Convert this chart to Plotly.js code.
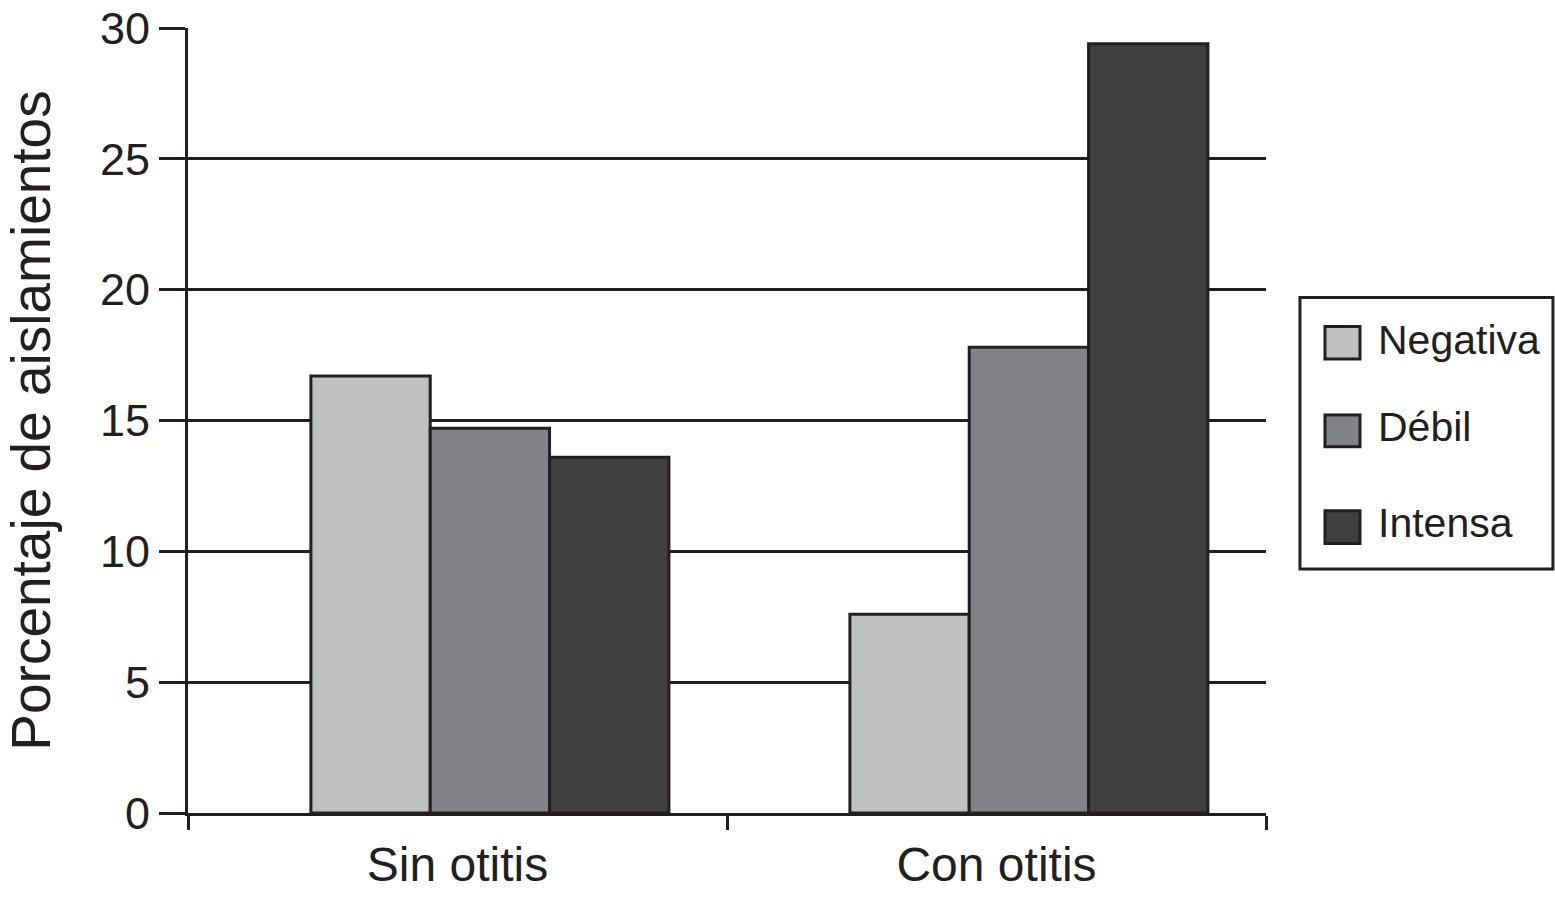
<!DOCTYPE html>
<html>
<head>
<meta charset="utf-8">
<script src="https://cdn.plot.ly/plotly-3.0.1.min.js"></script>
<style>html,body{margin:0;padding:0;background:#fff;}#chart{width:1555px;height:904px;}</style>
</head>
<body>
<div id="chart"></div>
<script>
const categories = ["Sin otitis", "Con otitis"];
const seriesNames = ["Negativa", "Débil", "Intensa"];
const negativa = [16.7, 7.6];
const debil = [14.7, 17.8];
const intensa = [13.6, 29.4];
const yTicks = [0, 5, 10, 15, 20, 25, 30];

const colors = ["#bfc0c2", "#818285", "#404041"];
const ink = "#231f20";
const values = [negativa, debil, intensa];
const FONT = "Liberation Sans, Arial, Helvetica, sans-serif";

// bars sit slightly right of the category centre in the original
const barWidth = 0.2214;
const barOffsets = [-0.272, -0.0506, 0.1708];

const traces = values.map((v, i) => ({
  type: "bar",
  name: seriesNames[i],
  x: categories,
  y: v,
  width: barWidth,
  offset: barOffsets[i],
  marker: {color: colors[i], line: {color: ink, width: 3}},
  showlegend: false,
  hoverinfo: "x+y+name"
}));

// Manual legend (large square swatches)
const legendShapes = [{
  type: "rect", xref: "paper", yref: "paper",
  x0: 1.0315, x1: 1.2662, y0: 0.3107, y1: 0.6566,
  line: {color: ink, width: 3}, fillcolor: "rgba(0,0,0,0)"
}];
const swatchY = [[0.5784, 0.6196], [0.4666, 0.5070], [0.3434, 0.3850]];
const textY = [0.6030, 0.4920, 0.3690];
const legendAnn = [];
seriesNames.forEach((n, i) => {
  legendShapes.push({
    type: "rect", xref: "paper", yref: "paper",
    x0: 1.0547, x1: 1.0872, y0: swatchY[i][0], y1: swatchY[i][1],
    line: {color: ink, width: 3}, fillcolor: colors[i]
  });
  legendAnn.push({
    xref: "paper", yref: "paper", x: 1.1020, y: textY[i],
    xanchor: "left", yanchor: "middle", showarrow: false,
    text: n, font: {family: FONT, size: 41, color: ink}
  });
});

const layout = {
  width: 1555, height: 904,
  margin: {l: 188, r: 289, t: 28, b: 91},
  paper_bgcolor: "#fff", plot_bgcolor: "#fff",
  barmode: "group", bargap: 0.336, bargroupgap: 0,
  showlegend: false,
  font: {family: FONT, color: ink},
  xaxis: {
    type: "category",
    tickson: "boundaries",
    ticks: "outside", ticklen: 14, tickwidth: 3, tickcolor: ink,
    showgrid: false,
    showline: true, linecolor: ink, linewidth: 3,
    tickfont: {family: FONT, size: 48, color: ink},
    ticklabelstandoff: 7,
    automargin: false
  },
  yaxis: {
    range: [0, 30],
    tickvals: yTicks,
    ticktext: yTicks.map(String),
    ticks: "outside", ticklen: 26, tickwidth: 3, tickcolor: ink,
    showgrid: true, gridcolor: ink, gridwidth: 3,
    zeroline: false,
    showline: true, linecolor: ink, linewidth: 3,
    tickfont: {family: FONT, size: 45, color: ink},
    title: {text: "Porcentaje de aislamientos", font: {family: FONT, size: 55, color: ink}, standoff: 36},
    automargin: false
  },
  shapes: legendShapes,
  annotations: legendAnn
};

Plotly.newPlot("chart", traces, layout, {staticPlot: true});
</script>
</body>
</html>
